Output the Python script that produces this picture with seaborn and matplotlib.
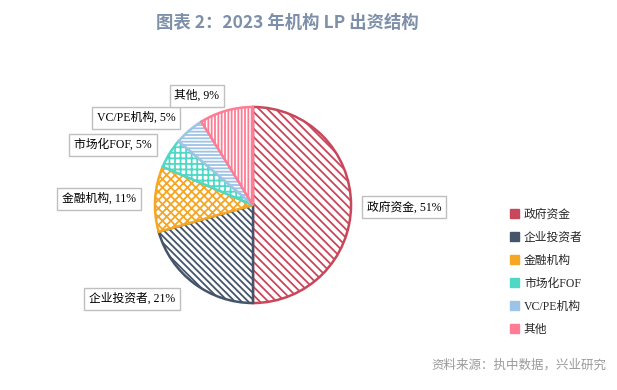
import matplotlib
matplotlib.use("Agg")
import matplotlib.pyplot as plt
import seaborn as sns
from matplotlib.patches import Patch

categories = ["政府资金", "企业投资者", "金融机构", "市场化FOF", "VC/PE机构", "其他"]
shares = [51, 21, 11, 5, 5, 9]
colors = ["#C8475A", "#44546A", "#F5A623", "#4FD8C6", "#9DC3E6", "#FF7C94"]
hatches = ["\\" * 4, "\\" * 5, "x" * 4, "+" * 3, "-" * 5, "|" * 5]

# label box centres in figure pixels (x, y from top)
label_pos = [(404, 207), (132, 299), (99, 199), (113, 145), (136, 118), (197, 96)]

sns.set_theme(style="white")
plt.rcParams["font.family"] = ["Noto Sans CJK SC", "DejaVu Sans"]
plt.rcParams["hatch.linewidth"] = 1.3

W, H = 617, 390
fig = plt.figure(figsize=(W / 100, H / 100), dpi=100)
fig.patch.set_facecolor("white")

cx, cy, r = 253, 205, 100
ax = fig.add_axes([(cx - r) / W, (H - cy - r) / H, 2 * r / W, 2 * r / H])
wedges, _ = ax.pie(shares, startangle=90, counterclock=False, radius=1,
                   wedgeprops=dict(linewidth=1.8))
for w, c, h in zip(wedges, colors, hatches):
    w.set_facecolor("white")
    w.set_edgecolor(c)
    w.set_hatch(h)
ax.set_xlim(-1.02, 1.02)
ax.set_ylim(-1.02, 1.02)
ax.set_axis_off()

label_font = ["Liberation Serif", "Noto Sans CJK SC"]
for cat, val, (px, py) in zip(categories, shares, label_pos):
    fig.text(px / W, 1 - py / H, f"{cat}, {val}%", ha="center", va="center",
             fontsize=8.5, family=label_font, color="black",
             bbox=dict(boxstyle="square,pad=0.4", facecolor="white",
                       edgecolor="#BFBFBF", linewidth=1.0))

handles = [Patch(facecolor=c, edgecolor=c) for c in colors]
fig.legend(handles, categories, loc="upper left",
           bbox_to_anchor=(505 / W, 1 - 204 / H), frameon=False,
           prop={"family": label_font, "size": 8.5},
           handlelength=0.8, handleheight=0.8, handletextpad=0.4,
           labelspacing=0.93, borderaxespad=0)

fig.text(287 / W, 1 - 23 / H, "图表 2：2023 年机构 LP 出资结构", ha="center",
         va="center", fontsize=12.5, fontweight="bold", color="#7D8FA9")
fig.text(606 / W, 1 - 365 / H, "资料来源：执中数据，兴业研究", ha="right",
         va="center", fontsize=9, color="#9A9A9A")

fig.savefig("out.png", dpi=100, facecolor="white")
